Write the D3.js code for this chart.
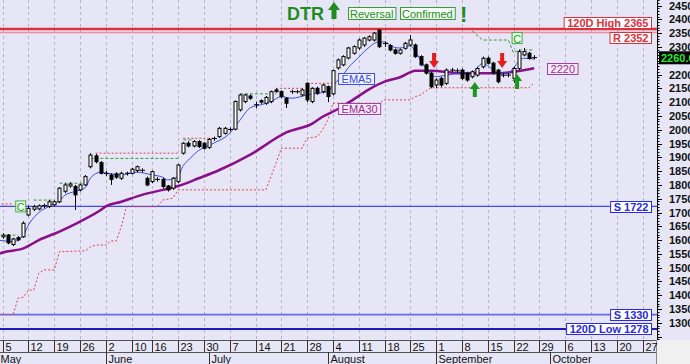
<!DOCTYPE html>
<html><head><meta charset="utf-8">
<script src="https://cdn.jsdelivr.net/npm/d3@7"></script>
<style>
body{margin:0;background:#e6e6f7;}
svg{display:block;font-family:"Liberation Sans",Arial,sans-serif;}
</style></head><body>
<svg id="c" width="690" height="364"></svg>
<script>
// ---------- DATA ----------
// trading-day index 0 = 5 May; candle OHLC
const opens  = [1612,1618,1584,1609,1612,1691,1712,1713,1724,1722,1728,1739,1777,1796,1794,1782,1800,1866,1905,1881,
                1842,1836,1840,1824,1841,1842,1852,1854,1824,1812,1821,1820,1796,1788,1812,1915,1951,1941,1957,1951,
                1936,1967,1975,1987,2003,2002,2072,2102,2122,2090,2105,2096,2102,2144,2138,2114,2137,2138,2126,2168,
                2102,2150,2138,2156,2130,2224,2235,2260,2277,2296,2307,2325,2325,2361,2311,2305,2289,2277,2295,2307,
                2307,2265,2235,2205,2162,2186,2168,2215,2213,2216,2205,2192,2198,2228,2259,2241,2216,2197,2199,2186,
                2222,2271,2277,2262];
const highs  = [1625,1622,1608,1614,1668,1725,1728,1729,1732,1745,1744,1792,1806,1810,1800,1804,1836,1915,1912,1886,
                1850,1842,1846,1848,1848,1862,1870,1860,1830,1852,1828,1825,1800,1828,1876,1955,1958,1962,1962,1955,
                1970,1975,2010,2010,2008,2106,2130,2130,2128,2102,2110,2122,2142,2150,2143,2118,2145,2144,2150,2172,
                2154,2156,2166,2160,2218,2258,2270,2300,2306,2330,2336,2342,2354,2365,2320,2310,2294,2294,2318,2343,
                2312,2270,2240,2210,2186,2192,2222,2224,2222,2222,2210,2215,2228,2265,2265,2246,2220,2206,2206,2228,
                2290,2296,2282,2270];
const lows   = [1605,1585,1578,1596,1608,1686,1705,1708,1716,1716,1722,1734,1770,1790,1709,1776,1796,1860,1878,1838,
                1832,1800,1822,1818,1834,1838,1846,1845,1795,1806,1812,1788,1776,1782,1806,1910,1936,1936,1934,1928,
                1930,1960,1970,1982,1994,1998,2066,2096,2108,2078,2094,2090,2096,2134,2114,2079,2130,2131,2120,2100,
                2096,2126,2132,2100,2124,2218,2230,2255,2272,2290,2300,2320,2320,2296,2300,2284,2272,2272,2290,2302,
                2260,2230,2200,2150,2150,2155,2162,2208,2206,2180,2174,2186,2192,2222,2236,2200,2168,2190,2190,2170,
                2216,2266,2254,2255];
const closes = [1618,1590,1604,1601,1661,1715,1721,1724,1726,1739,1739,1788,1800,1803,1764,1800,1830,1908,1884,1842,
                1840,1820,1828,1842,1843,1857,1866,1852,1800,1848,1819,1794,1782,1824,1872,1951,1941,1957,1939,1933,
                1965,1969,2005,2005,1999,2102,2126,2126,2114,2091,2100,2117,2138,2138,2120,2096,2139,2137,2144,2108,
                2150,2132,2162,2120,2214,2253,2265,2296,2301,2325,2332,2337,2350,2301,2313,2289,2277,2289,2313,2325,
                2265,2235,2205,2156,2180,2162,2216,2217,2214,2186,2180,2210,2222,2259,2241,2205,2174,2198,2197,2222,
                2283,2283,2259,2260.6];
// moving averages: [day index, value]
const ema5 = [[-1,1600],[0,1598],[2,1594],[4,1618],[5,1655],[7,1700],[9,1722],[11,1742],[12,1762],[14,1776],[16,1790],
  [17,1825],[19,1846],[21,1840],[23,1836],[26,1846],[29,1836],[31,1828],[32,1818],[34,1832],[35,1870],[36,1890],
  [38,1925],[41,1952],[44,1987],[46,2035],[48,2080],[50,2090],[52,2102],[54,2120],[56,2114],[59,2126],[61,2132],
  [63,2138],[64,2160],[65,2180],[66,2200],[67,2225],[68,2245],[69,2262],[70,2282],[71,2298],[72,2313],[73,2318],
  [74,2318],[75,2308],[76,2298],[77,2296],[78,2300],[79,2304],[80,2282],[82,2222],[84,2192],[86,2198],[89,2205],
  [91,2208],[93,2240],[95,2218],[96,2206],[98,2205],[99,2225],[101,2259],[103,2256]];
const ema30 = [[-1,1548],[0,1555],[4,1570],[7,1600],[11,1631],[15,1667],[19,1709],[20,1722],[23,1739],[27,1764],
  [31,1782],[34,1796],[38,1824],[42,1854],[48,1910],[55,1990],[60,2022],[62,2047],[65,2075],[68,2110],[71,2146],
  [74,2174],[77,2190],[80,2214],[83,2214],[89,2205],[96,2205],[99,2210],[103,2223]];
// trailing support (red dotted)
const support = [[-1,1330],[2,1330],[3,1390],[4,1393],[5,1419],[6,1419],[7,1480],[8,1492],[10,1492],[11,1558],
  [16,1561],[17,1575],[18,1582],[20,1582],[21,1597],[22,1597],[23,1650],[24,1721],[30,1721],[31,1745],[33,1752],
  [34,1782],[51,1782],[52,1830],[53,1880],[54,1933],[58,1933],[59,1969],[61,1975],[62,2000],[63,2035],[64,2096],
  [73,2096],[74,2108],[79,2108],[80,2120],[81,2126],[82,2140],[83,2152],[102,2152],[103,2170]];
// resistance segments (red dotted): [from, to, value]
const resistSegs = [[-1,2,1731],[18,34,1915],[35,41,1969],[53,58,2150],[59,64,2168]];
// green dashed stop segments
const stopSegs = [[-1,3,1618],[6,10,1745],[11,16,1806],[17,34,1896],[35,37,1963],[46,53,2130]];
const stopTail = [[91,2358],[93,2325],[98,2325],[99,2278],[100,2289],[103,2289]];
// horizontal levels
const levels = [
  {v:2365, text:"120D High 2365", color:"#e0303c", lw:2.5, side:"above"},
  {v:2352, text:"R 2352", color:"#f08c9c", tcolor:"#e0303c", lw:1.5, side:"below"},
  {v:1722, text:"S 1722", color:"#4848ee", tcolor:"#2a2ae0", lw:1.2, side:"mid"},
  {v:1330, text:"S 1330", color:"#6a6ae8", tcolor:"#2a2ae0", lw:1.6, side:"mid"},
  {v:1278, text:"120D Low 1278", color:"#1c1cc0", tcolor:"#2a2ae0", lw:2, side:"mid"}
];
// signals
const downArrows = [[83.6,2278],[96.8,2278]];   // top of arrow
const upArrows   = [[91.5,2173],[99.7,2202]];   // tip of arrow
const cMarks = [[3.5,1722],[99.7,2332]];
// axis ticks
const weekTicks  = [0,5,10,15,20,25,29,34,39,44,49,54,59,64,69,74,79,84,89,94,99,104,109,114,119,124];
const weekLabels = ["5","12","19","26","2","10","16","23","30","7","14","21","28","4","11","18","25","1","8","15","22","29","6","13","20","27"];
const monthStarts = [-1,20,40,63,84,106];
const monthNames  = ["May","June","July","August","September","October"];
const priceTicks = [1300,1350,1400,1450,1500,1550,1600,1650,1700,1750,1800,1850,1900,1950,2000,2050,2100,2150,2200,2300,2350,2400,2450];
const lastClose = 2260.6;

// ---------- SCALES ----------
const plotR = 657, plotB = 340;
const x = d3.scaleLinear().domain([0,124]).range([2.7,642.5]);
const y = d3.scaleLinear().domain([1238,2470]).range([plotB,0]);
const svg = d3.select("#c");
svg.append("rect").attr("width",690).attr("height",364).attr("fill","#e6e6f7");
svg.append("defs").append("clipPath").attr("id","clip").append("rect")
  .attr("x",0).attr("y",0).attr("width",plotR).attr("height",plotB);
const plot = svg.append("g").attr("clip-path","url(#clip)");

// grid
plot.selectAll("line.grid").data(weekTicks).join("line")
  .attr("x1",d=>Math.round(x(d))+0.5).attr("x2",d=>Math.round(x(d))+0.5)
  .attr("y1",0).attr("y2",plotB).attr("stroke","#b4b4c6").attr("stroke-dasharray","3,3");

// level lines
levels.forEach(L=>{
  plot.append("line").attr("x1",0).attr("x2",plotR).attr("y1",y(L.v)).attr("y2",y(L.v))
    .attr("stroke",L.color).attr("stroke-width",L.lw);
});

// support dotted
const line = d3.line().x(d=>x(d[0])).y(d=>y(d[1]));
plot.append("path").attr("d",line(support)).attr("fill","none")
  .attr("stroke","#e0404a").attr("stroke-width",1).attr("stroke-dasharray","2,2");
resistSegs.forEach(s=>{
  plot.append("line").attr("x1",x(s[0])).attr("x2",x(s[1])).attr("y1",y(s[2])).attr("y2",y(s[2]))
    .attr("stroke","#e0404a").attr("stroke-dasharray","2,2");
});
stopSegs.forEach(s=>{
  plot.append("line").attr("x1",x(s[0])).attr("x2",x(s[1])).attr("y1",y(s[2])).attr("y2",y(s[2]))
    .attr("stroke","#3c9a3c").attr("stroke-dasharray","3,2");
});
plot.append("path").attr("d",line(stopTail)).attr("fill","none")
  .attr("stroke","#3c9a3c").attr("stroke-dasharray","3,2");

// EMA lines
const cl = d3.line().x(d=>x(d[0])).y(d=>y(d[1])).curve(d3.curveMonotoneX);
plot.append("path").attr("d",cl(ema30)).attr("fill","none").attr("stroke","#8a0f8a").attr("stroke-width",2.5);
plot.append("path").attr("d",cl(ema5)).attr("fill","none").attr("stroke","#3a4ee8").attr("stroke-width",1);

// candles
const candles = opens.map((o,i)=>({i,o,h:highs[i],l:lows[i],c:closes[i]}));
const cg = plot.append("g");
candles.forEach(d=>{
  const cx = Math.round(x(d.i))+0.5;
  cg.append("line").attr("x1",cx).attr("x2",cx).attr("y1",y(d.h)).attr("y2",y(d.l)).attr("stroke","#000");
  const bTop = y(Math.max(d.o,d.c)), bBot = y(Math.min(d.o,d.c));
  if (bBot-bTop < 1.2) {
    cg.append("line").attr("x1",cx-2.5).attr("x2",cx+2.5).attr("y1",(bTop+bBot)/2).attr("y2",(bTop+bBot)/2).attr("stroke","#000");
  } else {
    cg.append("rect").attr("x",cx-1.5).attr("y",bTop).attr("width",3).attr("height",bBot-bTop)
      .attr("fill",d.c>=d.o?"#fff":"#000").attr("stroke","#000").attr("stroke-width",1);
  }
});

// arrows
downArrows.forEach(a=>{
  const cx=x(a[0]), t=y(a[1]);
  plot.append("path").attr("fill","#e81c1c")
    .attr("d",`M${cx-2},${t}H${cx+2}V${t+8}H${cx+5}L${cx},${t+15}L${cx-5},${t+8}H${cx-2}Z`);
});
upArrows.forEach(a=>{
  const cx=x(a[0]), t=y(a[1]);
  plot.append("path").attr("fill","#1e961e")
    .attr("d",`M${cx},${t}L${cx+5},${t+7}H${cx+2}V${t+15}H${cx-2}V${t+7}H${cx-5}Z`);
});

// label box helper
function box(g, txt, xl, yc, color, tcolor, fill, bold, anchorRight){
  const t = g.append("text").text(txt).attr("font-size",11).attr("font-weight",bold?"bold":"normal")
    .attr("fill",tcolor).attr("dominant-baseline","central");
  const w = t.node().getComputedTextLength()+6;
  const left = anchorRight ? xl-w : xl;
  g.insert("rect","text").attr("x",left+0.5).attr("y",Math.round(yc-5.5)+0.5).attr("width",w).attr("height",11)
    .attr("fill",fill).attr("stroke",color);
  t.attr("x",left+3.5).attr("y",Math.round(yc-5.5)+6);
}
// C marks
cMarks.forEach(c=>{
  const g = plot.append("g");
  g.append("rect").attr("x",x(c[0])-5).attr("y",y(c[1])-5.5).attr("width",10).attr("height",11)
    .attr("fill","#eaffea").attr("stroke","#40aa40");
  g.append("text").attr("x",x(c[0])).attr("y",y(c[1])+0.5).attr("text-anchor","middle")
    .attr("dominant-baseline","central").attr("font-size",11).attr("fill","#2a9a2a").text("C");
});

// EMA labels
box(plot.append("g"),"EMA5",x(65),y(2186),"#3a4ee8","#3a4ee8","#eef0ff",false,false);
box(plot.append("g"),"EMA30",x(65),y(2076),"#a040a0","#9a2a9a","#f6eaf6",false,false);
box(plot.append("g"),"2220",x(105.5),y(2220),"#a040a0","#9a2a9a","#f6eaf6",false,false);

// level labels
levels.forEach(L=>{
  const yc = L.side==="above" ? y(L.v)-6 : L.side==="below" ? y(L.v)+5 : y(L.v);
  box(svg.append("g"),L.text,651,yc,L.tcolor||L.color,L.tcolor||L.color,"#fff",true,true);
});

// ---------- Y AXIS (right) ----------
const ax = svg.append("g");
ax.append("line").attr("x1",plotR+0.5).attr("x2",plotR+0.5).attr("y1",0).attr("y2",plotB).attr("stroke","#000");
d3.range(1240,2471,10).forEach(v=>{
  const major = v%50===0;
  ax.append("line").attr("x1",plotR+0.5).attr("x2",plotR+(major?5:2.5))
    .attr("y1",Math.round(y(v))+0.5).attr("y2",Math.round(y(v))+0.5).attr("stroke","#000");
});
ax.selectAll("text.pt").data(priceTicks).join("text")
  .attr("x",669).attr("y",d=>y(d)).attr("dominant-baseline","central")
  .attr("font-size",11).attr("font-weight","bold").attr("fill","#111").text(d=>d);
// last price tag
ax.append("rect").attr("x",659).attr("y",y(lastClose)-6.5).attr("width",32).attr("height",13).attr("fill","#000");
ax.append("text").attr("x",661).attr("y",y(lastClose)+0.5).attr("dominant-baseline","central")
  .attr("font-size",11).attr("font-weight","bold").attr("fill","#22ee22").text(lastClose.toFixed(1));

// ---------- X AXIS ----------
const xa = svg.append("g");
xa.append("rect").attr("x",656).attr("y",plotB).attr("width",34).attr("height",24).attr("fill","#f0f0f0");
xa.append("line").attr("x1",0).attr("x2",656).attr("y1",plotB+0.5).attr("y2",plotB+0.5).attr("stroke","#555");
xa.append("line").attr("x1",0).attr("x2",656).attr("y1",352.5).attr("y2",352.5).attr("stroke","#555");
xa.append("line").attr("x1",656.5).attr("x2",656.5).attr("y1",plotB).attr("y2",364).attr("stroke","#888");
weekTicks.forEach((t,k)=>{
  const px = Math.round(x(t))+0.5;
  xa.append("line").attr("x1",px).attr("x2",px).attr("y1",plotB).attr("y2",352).attr("stroke","#333");
  xa.append("text").attr("x",px+2).attr("y",350.5).attr("font-size",11).attr("fill","#111").text(weekLabels[k]);
});
monthStarts.forEach((m,k)=>{
  const px = Math.round(x(m))+0.5;
  xa.append("line").attr("x1",px).attr("x2",px).attr("y1",352).attr("y2",364).attr("stroke","#333");
  xa.append("text").attr("x",px+2).attr("y",363).attr("font-size",11).attr("fill","#111").text(monthNames[k]);
});

// ---------- TOP ANNOTATION ----------
const topG = svg.append("g");
topG.append("text").attr("x",287).attr("y",20).attr("font-size",18).attr("font-weight","bold")
  .attr("fill","#1f8c1f").text("DTR");
topG.append("path").attr("fill","#1f8c1f").attr("d","M334,2L340,10H336.5V19H331.5V10H328Z");
function tagBox(txt,xl){
  const t = topG.append("text").attr("x",xl+2).attr("y",17.5).attr("font-size",11).attr("fill","#2a8a2a").text(txt);
  const w = t.node().getComputedTextLength()+4;
  topG.insert("rect","text").attr("x",xl+0.5).attr("y",7.5).attr("width",w).attr("height",12)
    .attr("fill","#f2fff2").attr("stroke","#3c9a3c");
}
tagBox("Reversal",348);
tagBox("Confirmed",400);
topG.append("text").attr("x",460).attr("y",22).attr("font-size",22).attr("font-weight","bold")
  .attr("fill","#1f8c1f").text("!");
</script></body></html>
